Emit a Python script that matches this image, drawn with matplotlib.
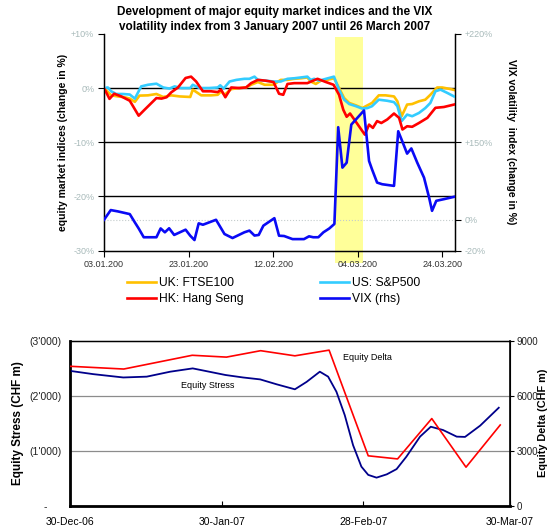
"""
Equity indices / VIX development and equity stress vs equity delta, Q1 2007
"""
import matplotlib
matplotlib.use("Agg")
import matplotlib.pyplot as plt
import matplotlib.dates as mdates
import numpy as np
import pandas as pd

plt.rcParams['font.family'] = ['Liberation Sans', 'DejaVu Sans']

### Top chart data: days after 3 Jan 2007, change in % ###
ftse_days = [0, 1.7, 3.3, 4.9, 6.1, 7.3, 8.4, 10.4, 12.4, 14.0, 15.9, 17.9, 20.4, 21.0, 23.0,
             25.3, 26.9, 27.7, 28.5, 30.1, 32.0, 33.6, 34.8, 36.4, 38.0, 40.1, 41.8, 43.4, 45.0,
             46.6, 48.1, 48.9, 50.1, 51.3, 52.8, 54.4, 55.6, 56.8, 58.0, 59.6, 61.1, 62.3, 63.4,
             65.0, 66.6, 68.6, 69.4, 70.4, 71.7, 72.9, 74.5, 76.0, 77.2, 78.8, 80.0, 81.7, 82.8]
ftse = [0, -1.35, -1.55, -1.7, -1.95, -2.55, -1.4, -1.35, -1.1, -1.65, -1.35, -1.55, -1.65, -0.3, -1.35,
        -1.35, -1.25, -0.6, -1.25, -0.2, 0.0, 0.1, 0.6, 1.1, 0.6, 0.6, 1.5, 1.5, 1.7,
        1.8, 1.95, 1.2, 0.75, 1.35, 1.5, 1.8, 0.0, -1.85, -2.75, -3.2, -3.7, -3.2, -2.75,
        -1.35, -1.35, -1.55, -2.45, -5.2, -3.05, -2.95, -2.45, -2.15, -1.25, 0.1, 0.1, -0.15, -0.35]

spx_days = [0, 0.9, 1.7, 2.9, 4.5, 6.1, 7.3, 8.8, 10.4, 12.4, 14.0, 15.5, 16.7, 18.3, 20.4,
            21.0, 22.6, 24.9, 26.9, 27.5, 28.3, 29.7, 31.3, 33.2, 34.4, 35.6, 36.4, 38.3, 40.1,
            41.8, 43.4, 45.0, 46.6, 48.1, 48.9, 49.7, 50.9, 52.5, 54.4, 55.6, 56.8, 58.0, 59.6,
            61.1, 62.3, 63.4, 65.0, 67.0, 68.6, 69.4, 70.4, 71.7, 72.9, 74.5, 76.0, 77.2, 78.4,
            79.6, 81.2, 82.8]
spx = [0, 0.1, -0.6, -1.1, -1.1, -1.2, -1.95, 0.3, 0.6, 0.8, 0.1, -0.1, 0.3, 0.0, 0.0,
       0.6, 0.0, 0.0, 0.1, 0.5, -0.1, 1.2, 1.5, 1.7, 1.7, 2.1, 1.5, 1.35, 1.2,
       1.2, 1.7, 1.8, 1.95, 2.1, 1.5, 1.7, 1.35, 1.7, 2.1, -0.3, -2.15, -2.95, -3.35,
       -3.8, -3.7, -3.35, -2.15, -2.35, -2.6, -3.35, -6.1, -4.9, -5.2, -4.6, -3.7, -2.75, -0.6,
       -0.3, -0.9, -1.55]

hsi_days = [0, 1.3, 2.4, 4.1, 6.1, 8.2, 9.6, 12.4, 13.6, 14.8, 15.9, 17.5, 19.3, 20.6, 21.8,
            23.4, 25.3, 26.9, 27.7, 28.7, 30.1, 32.0, 33.6, 34.8, 36.4, 38.3, 40.1, 41.4, 42.4,
            43.4, 45.0, 48.1, 50.5, 52.5, 54.3, 55.6, 56.6, 57.4, 58.2, 59.2, 61.7, 62.7, 63.6,
            64.6, 65.6, 67.0, 68.6, 69.8, 70.6, 71.7, 72.9, 74.5, 76.5, 78.4, 80.4, 82.8]
hsi = [0, -2.0, -1.05, -1.55, -2.35, -5.1, -4.0, -1.85, -1.95, -1.7, -0.8, 0.1, 1.85, 2.1, 1.2,
       -0.6, -0.6, -0.75, -0.3, -1.7, 0.1, 0.0, 0.1, 0.9, 1.5, 1.35, 1.1, -1.05, -1.25,
       0.75, 0.9, 0.9, 1.7, 1.1, 0.6, -1.25, -4.0, -5.3, -4.7, -5.8, -8.6, -6.75, -7.35,
       -6.1, -6.45, -5.8, -4.7, -5.5, -7.65, -7.05, -7.15, -6.45, -5.5, -3.65, -3.5, -3.05]

vix_days = [0, 1.6, 3.3, 6.1, 7.3, 8.2, 9.4, 12.4, 13.4, 14.4, 15.4, 16.6, 19.3, 20.4, 21.4,
            22.4, 23.4, 26.5, 28.5, 30.4, 33.2, 34.4, 35.6, 36.6, 37.7, 40.3, 41.4, 42.6, 44.6,
            47.3, 48.5, 49.5, 50.7, 51.9, 53.3, 54.5, 55.4, 56.4, 57.4, 58.5, 61.5, 62.7, 63.4,
            64.6, 65.8, 68.6, 69.6, 70.7, 71.7, 72.7, 74.1, 75.7, 76.9, 77.6, 78.6, 80.4, 82.8]
vix = [0, 18.8, 16.2, 11.0, -1.7, -5.6, -11.3, -11.3, -5.6, -8.1, -5.5, -9.8, -6.4, -10.3, -13.1,
       -2.3, -3.2, 0.0, -9.2, -11.8, -8.1, -7.0, -10.2, -9.8, -3.8, 3.1, -10.3, -10.5, -12.5,
       -12.5, -10.7, -11.3, -11.3, -8.1, -5.6, -2.7, 159.7, 100.9, 110.5, 161.4, 170.5, 113.8, 97.6,
       72.0, 68.8, 65.6, 157.1, 148.9, 128.0, 138.0, 110.5, 81.6, 43.1, 17.4, 36.7, 39.9, 44.4]

top_xticks = [0, 20, 40, 60, 80]
top_xlabels = ['03.01.200', '23.01.200', '12.02.200', '04.03.200', '24.03.200']
left_ticks = [10, 0, -10, -20, -30]
left_labels = ['+10%', '0%', '-10%', '-20%', '-30%']
right_ticks = [220, 150, 0, -20]
right_labels = ['+220%', '+150%', '0%', '-20%']

### Bottom chart data ###
delta_dates = ['2006-12-30', '2007-01-10', '2007-01-24', '2007-01-31', '2007-02-07', '2007-02-14',
               '2007-02-21', '2007-03-01', '2007-03-07', '2007-03-14', '2007-03-21', '2007-03-28']
delta = [7600, 7450, 8200, 8100, 8450, 8170, 8480, 2720, 2550, 4750, 2100, 4400]

# days after 30 Dec 2006
stress_days = [0, 4.8, 10.9, 15.7, 20.5, 25.1, 27.9, 31.8, 35.4, 38.9, 42.3, 46.0, 48.4, 51.1, 52.8,
               54.5, 56.2, 57.9, 59.6, 61.0, 62.7, 64.8, 66.8, 68.8, 71.6, 73.8, 76.3, 79.1, 80.8,
               83.9, 87.7]
stress = [-2450, -2390, -2330, -2345, -2435, -2495, -2445, -2375, -2330, -2295, -2205, -2115, -2250,
          -2435, -2345, -2070, -1645, -1100, -710, -560, -510, -570, -665, -890, -1255, -1435,
          -1375, -1255, -1250, -1455, -1780]

stress_ticks = [0, -1000, -2000, -3000]
stress_labels = ['-     ', "(1'000)", "(2'000)", "(3'000)"]
delta_ticks = [0, 3000, 6000, 9000]


# right axis of the top chart is not linear: map rhs % onto lhs %
rhs_breaks = [-1000, -20, 0, 150, 220, 1000]
lhs_breaks = [-313.5, -30, -24.3, -10, 10, 234.3]


def to_lhs(v):
    return np.interp(v, rhs_breaks, lhs_breaks)


def to_rhs(v):
    return np.interp(v, lhs_breaks, rhs_breaks)


fig = plt.figure(figsize=(5.5, 5.29), dpi=100)
W, H = 550, 529

### Top chart ###
ax1 = fig.add_axes([104 / W, 1 - 250.7 / H, 351.3 / W, 216.9 / H])
ax1.set_xlim(0, 83.1)
ax1.set_ylim(-30, 10)
ax1.axvspan(54.7, 61.3, ymin=-0.058, ymax=0.987, color='#FFFF99', lw=0, clip_on=False, zorder=0)
for y in [0, -10, -20]:
    ax1.axhline(y, color='black', lw=1, zorder=1)

ax1.plot(ftse_days, ftse, color='#FFC000', lw=1.9, zorder=2)
ax1.plot(spx_days, spx, color='#33CCFF', lw=1.9, zorder=3)
ax1.plot(hsi_days, hsi, color='#FF0000', lw=1.9, zorder=4)

ax1.set_yticks(left_ticks)
ax1.set_yticklabels(left_labels)
ax1.set_xticks(top_xticks)
ax1.set_xticklabels(top_xlabels)
ax1.tick_params(axis='y', length=4, width=0.8, labelsize=6.5, labelcolor='#a8baba', pad=3)
ax1.tick_params(axis='x', length=4, width=0.8, labelsize=6.5, labelcolor='#333333', pad=3)
ax1.spines['top'].set_visible(False)
for s in ['left', 'right', 'bottom']:
    ax1.spines[s].set_linewidth(1)

ax2 = ax1.twinx()
ax2.set_yscale('function', functions=(to_lhs, to_rhs))
ax2.set_ylim(-20, 220)
ax2.axhline(0, color='#c4cccc', lw=0.8, ls=':', zorder=1)
ax2.plot(vix_days, vix, color='#0A0AF5', lw=1.9, zorder=5)
ax2.set_yticks(right_ticks)
ax2.set_yticklabels(right_labels)
ax2.yaxis.set_minor_locator(matplotlib.ticker.NullLocator())
ax2.tick_params(axis='y', length=4, width=0.8, labelsize=6.5, labelcolor='#a8baba', pad=3)
ax2.spines['top'].set_visible(False)

fig.text(0.5, 1 - 19.5 / H, 'Development of major equity market indices and the VIX\n'
         'volatility index from 3 January 2007 until 26 March 2007',
         ha='center', va='center', fontsize=8.5, fontweight='bold', linespacing=1.3)
fig.text(63 / W, 1 - 142 / H, 'equity market indices (change in %)', rotation=90,
         ha='center', va='center', fontsize=7.5, fontweight='bold')
fig.text(511 / W, 1 - 142 / H, 'VIX volatility  index (change in %)', rotation=-90,
         ha='center', va='center', fontsize=7.5, fontweight='bold')

# legend in two columns
h_uk, = ax1.plot([], [], color='#FFC000', lw=1.9)
h_hk, = ax1.plot([], [], color='#FF0000', lw=1.9)
h_us, = ax1.plot([], [], color='#33CCFF', lw=1.9)
h_vix, = ax1.plot([], [], color='#0A0AF5', lw=1.9)
fig.legend([h_uk, h_hk], ['UK: FTSE100', 'HK: Hang Seng'], loc='center left',
           bbox_to_anchor=(121 / W, 1 - 291.3 / H), frameon=False, fontsize=8.7,
           handlelength=2.4, handletextpad=0.25, labelspacing=0.3, borderpad=0)
fig.legend([h_us, h_vix], ['US: S&P500', 'VIX (rhs)'], loc='center left',
           bbox_to_anchor=(314 / W, 1 - 291.3 / H), frameon=False, fontsize=8.7,
           handlelength=2.4, handletextpad=0.25, labelspacing=0.3, borderpad=0)

### Bottom chart ###
base = pd.Timestamp('2006-12-30')
stress_dates = base + pd.to_timedelta(stress_days, unit='D')
delta_dt = pd.to_datetime(delta_dates)

axb = fig.add_axes([70 / W, 1 - 505.7 / H, 440 / W, 165.1 / H])
axb.set_xlim(pd.Timestamp('2006-12-30'), pd.Timestamp('2007-03-30'))
axb.set_ylim(0, -3000)
for y in [-1000, -2000]:
    axb.axhline(y, color='#8c8c8c', lw=0.9, zorder=1)
axb.plot(stress_dates, stress, color='#00008B', lw=1.3, zorder=3)
axb.text(pd.Timestamp('2007-01-21 19:00'), -2190, 'Equity Stress', fontsize=6.5,
         ha='left', va='center')
axb.set_yticks(stress_ticks)
axb.set_yticklabels(stress_labels)
axb.set_xticks(pd.to_datetime(['2006-12-30', '2007-01-30', '2007-02-28', '2007-03-30']))
axb.xaxis.set_major_formatter(mdates.DateFormatter('%d-%b-%y'))
axb.tick_params(axis='x', direction='in', length=3.5, width=0.8, labelsize=7.5, pad=8)
axb.tick_params(axis='y', length=0, labelsize=7.5, pad=6, labelcolor='#222222')
axb.spines['left'].set_linewidth(2)
axb.spines['bottom'].set_linewidth(2)
axb.spines['top'].set_linewidth(1)
axb.spines['right'].set_linewidth(1.2)

axb2 = axb.twinx()
axb2.set_ylim(0, 9000)
axb2.plot(delta_dt, delta, color='#FF0000', lw=1.2, zorder=4)
axb2.text(pd.Timestamp('2007-02-23 22:00'), 8090, 'Equity Delta', fontsize=6.5,
          ha='left', va='center')
axb2.set_yticks(delta_ticks)
axb2.tick_params(axis='y', length=3, width=0.8, labelsize=7, pad=2, labelcolor='#222222')

fig.text(18.5 / W, 1 - 423 / H, 'Equity Stress (CHF m)', rotation=90,
         ha='center', va='center', fontsize=8.5, fontweight='bold')
fig.text(543.5 / W, 1 - 423 / H, 'Equity Delta (CHF m)', rotation=90,
         ha='center', va='center', fontsize=7.8, fontweight='bold')

fig.savefig('out.png', dpi=100)
